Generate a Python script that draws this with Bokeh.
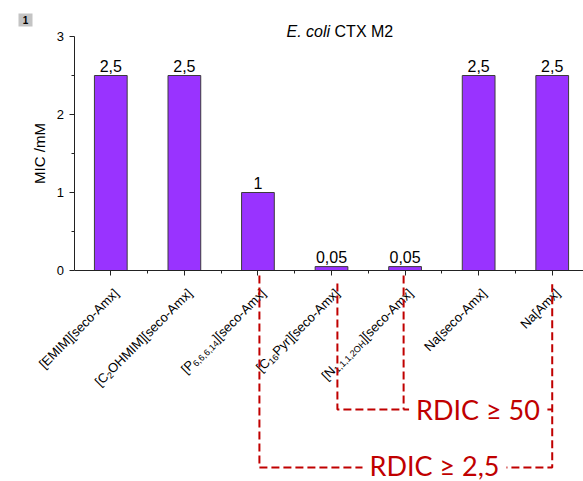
import math

from bokeh.core.properties import value
from bokeh.embed import file_html
from bokeh.models import ColumnDataSource, FixedTicker, Range1d
from bokeh.plotting import figure
from bokeh.resources import INLINE

# ---- data -------------------------------------------------------------
# compound names; text between underscores is set as a subscript
compounds = [
    "[EMIM][seco-Amx]",
    "[C_2_OHMIM][seco-Amx]",
    "[P_6,6,6,14_][seco-Amx]",
    "[C_16_Pyr][seco-Amx]",
    "[N_1,1,1,2OH_][seco-Amx]",
    "Na[seco-Amx]",
    "Na[Amx]",
]
mic = [2.5, 2.5, 1, 0.05, 0.05, 2.5, 2.5]          # MIC in mM
y_ticks = [0, 1, 2, 3]
y_minor = [0.5, 1.5, 2.5]
title_italic = "E. coli"
title_rest = "CTX M2"
y_label = "MIC /mM"
panel_tag = "1"
rdic_outer = "RDIC \u2265 2,5"
rdic_inner = "RDIC \u2265 50"

# ---- canvas geometry (pixels) ------------------------------------------
W, H = 583, 481
PX_PER_CAT = 73.57      # horizontal distance between categories
CAT1_PX = 110.3         # screen x of the first category
PX_PER_UNIT = 78.0      # vertical pixels per mM
ZERO_PX = 270.0         # screen y of MIC = 0

x_start = 1 - CAT1_PX / PX_PER_CAT
x_end = x_start + W / PX_PER_CAT
y_end = ZERO_PX / PX_PER_UNIT
y_start = y_end - H / PX_PER_UNIT


def dx(px):
    return x_start + px / PX_PER_CAT


def dy(py):
    return y_end - py / PX_PER_UNIT


FONT = "Liberation Sans"
INK = "#222222"

p = figure(
    width=W, height=H,
    x_range=Range1d(x_start, x_end), y_range=Range1d(y_start, y_end),
    output_backend="svg", toolbar_location=None,
    min_border=0, outline_line_color=None,
    background_fill_color="white", border_fill_color="white",
)
p.grid.visible = False

# x axis sits on MIC = 0, y axis on the left edge of the first slot
xs = list(range(1, len(mic) + 1))
xa = p.xaxis[0]
xa.fixed_location = 0
xa.bounds = (0.5, x_end)
xa.ticker = FixedTicker(ticks=xs, minor_ticks=[k + 0.5 for k in xs[:-1]])
xa.major_label_text_color = None
ya = p.yaxis[0]
ya.fixed_location = 0.5
ya.bounds = (y_ticks[0], y_ticks[-1])
ya.ticker = FixedTicker(ticks=y_ticks, minor_ticks=y_minor)
ya.major_label_text_font = FONT
ya.major_label_text_font_size = "13px"
ya.major_label_text_color = "black"
ya.major_label_standoff = 5
ya.axis_label = y_label
ya.axis_label_text_font = FONT
ya.axis_label_text_font_size = "15px"
ya.axis_label_text_font_style = "normal"
ya.axis_label_text_color = "black"
ya.axis_label_standoff = 6
for ax in (xa, ya):
    ax.axis_line_color = INK
    ax.major_tick_line_color = INK
    ax.minor_tick_line_color = INK
    ax.major_tick_in = 0
    ax.major_tick_out = 5
    ax.minor_tick_in = 0
    ax.minor_tick_out = 3

# ---- bars and value labels ---------------------------------------------
p.vbar(x=xs, top=mic, width=0.445, bottom=0,
       fill_color="#9933ff", line_color="#3c3c3c", line_width=1)
val_text = [("%g" % v).replace(".", ",") for v in mic]
p.text(x=xs, y=mic, text=val_text, text_align="center",
       text_baseline="alphabetic", y_offset=-10,
       text_font=value(FONT), text_font_size="16px", text_color="black")

# ---- rotated category labels with subscripts ---------------------------
ARIAL = {
    " ": 278, "[": 278, "]": 278, "E": 667, "M": 833, "I": 278, "C": 722,
    "O": 778, "H": 722, "P": 667, "N": 722, "A": 667, "a": 556, "s": 500,
    "e": 556, "c": 500, "o": 556, "-": 333, "m": 833, "x": 500, "y": 500,
    "r": 333, ",": 278, "T": 611, "X": 667, "l": 222, "i": 222, ".": 278,
}


def text_w(s, size):
    return sum(ARIAL.get(ch, 556) for ch in s) / 1000.0 * size


MAIN_SIZE, SUB_SIZE, SUB_DROP = 13, 9, 3.5
ANCHOR_X, ANCHOR_Y = 5.5, 20.5
cs = math.sqrt(0.5)
main_src = dict(x=[], y=[], text=[], xo=[], yo=[])
sub_src = dict(x=[], y=[], text=[], xo=[], yo=[])
for xi, name in zip(xs, compounds):
    parts = [(t, i % 2 == 1) for i, t in enumerate(name.split("_")) if t]
    trailing = 0.0
    for t, is_sub in reversed(parts):
        ox = ANCHOR_X - cs * trailing
        oy = ANCHOR_Y + cs * trailing
        if is_sub:
            ox += cs * SUB_DROP
            oy += cs * SUB_DROP
        src = sub_src if is_sub else main_src
        src["x"].append(xi)
        src["y"].append(0)
        src["text"].append(t)
        src["xo"].append(ox)
        src["yo"].append(oy)
        trailing += text_w(t, SUB_SIZE if is_sub else MAIN_SIZE)

for src, size in ((main_src, MAIN_SIZE), (sub_src, SUB_SIZE)):
    p.text(x="x", y="y", text="text", x_offset="xo", y_offset="yo",
           source=ColumnDataSource(src), angle=math.pi / 4,
           text_align="right", text_baseline="alphabetic",
           text_font=value(FONT), text_font_size=f"{size}px",
           text_color="black")

# ---- title and panel tag -----------------------------------------------
title_x = dx(329.6)
title_y = dy(31)
p.text(x=[title_x], y=[title_y], text=[title_italic], text_align="right",
       text_baseline="alphabetic", text_font=value(FONT),
       text_font_size="16px", text_font_style="italic", text_color="black")
p.text(x=[title_x], y=[title_y], text=[title_rest], text_align="left",
       x_offset=text_w(" ", 16),
       text_baseline="alphabetic", text_font=value(FONT),
       text_font_size="16px", text_color="black")

p.rect(x=[dx(25)], y=[dy(19.5)], width=14, height=13,
       width_units="screen", height_units="screen",
       fill_color="#c4c4c4", line_color=None)
p.text(x=[dx(25)], y=[dy(19.5)], text=[panel_tag], text_align="center",
       text_baseline="middle", text_font=value(FONT), text_font_size="10px",
       text_font_style="bold", text_color="black")

# ---- RDIC brackets --------------------------------------------------------
RED = "#c00000"
lvl_outer = dy(467)
lvl_inner = dy(409)
top_near = dy(275)
top_far = dy(283)
x3, x4, x5, x7 = xs[2] + 0.02, xs[3] + 0.08, xs[4] - 0.02, xs[6]
p.multi_line(
    xs=[[x3, x3, x7, x7], [x4, x4, x7], [x5, x5]],
    ys=[[top_near, lvl_outer, lvl_outer, top_far],
        [top_far, lvl_inner, lvl_inner],
        [top_near, lvl_inner]],
    line_color=RED, line_width=2, line_dash="8 4",
)
p.text(x=[dx(434), dx(477.5)], y=[dy(465), lvl_inner],
       text=[rdic_outer, rdic_inner], text_align="center",
       text_baseline="middle", text_font=value("Lato"),
       text_font_size="27px", text_color=RED,
       background_fill_color="white",
       padding=dict(left=7, right=7, top=0, bottom=0))

open("out.html", "w").write(file_html(p, INLINE))
